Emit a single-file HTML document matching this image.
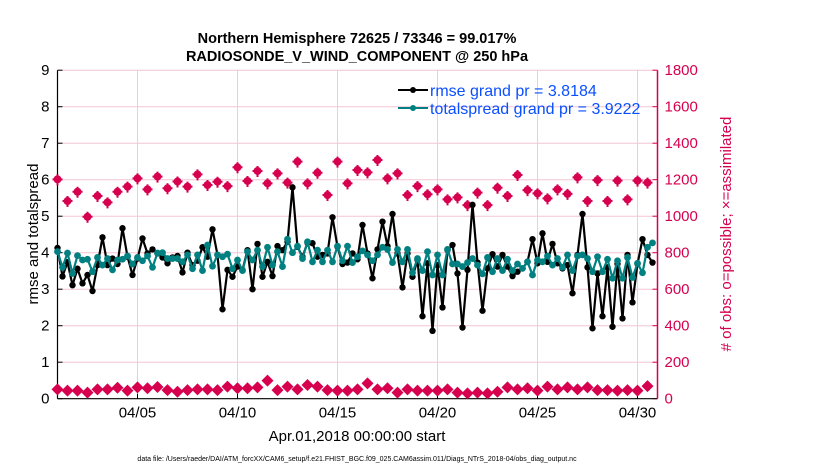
<!DOCTYPE html>
<html><head><meta charset="utf-8"><style>
body{margin:0;background:#fff;}
svg{display:block;font-family:"Liberation Sans",sans-serif;}
</style></head><body>
<svg id="chart" width="830" height="470" viewBox="0 0 830 470">
<g id="grid"></g>
<g id="axes"></g>
<g id="marks"></g>
<text x="357" y="43" text-anchor="middle" font-size="14.5" font-weight="bold">Northern Hemisphere 72625 / 73346 = 99.017%</text>
<text x="357" y="61" text-anchor="middle" font-size="14.5" font-weight="bold">RADIOSONDE_V_WIND_COMPONENT @ 250 hPa</text>
<text x="357" y="441" text-anchor="middle" font-size="15">Apr.01,2018 00:00:00 start</text>
<text transform="translate(38,234) rotate(-90)" text-anchor="middle" font-size="15">rmse and totalspread</text>
<text transform="translate(731,234) rotate(-90)" text-anchor="middle" font-size="15" fill="#d6004f"># of obs: o=possible; ×=assimilated</text>
<text x="357" y="461" text-anchor="middle" font-size="7">data file: /Users/raeder/DAI/ATM_forcXX/CAM6_setup/f.e21.FHIST_BGC.f09_025.CAM6assim.011/Diags_NTrS_2018-04/obs_diag_output.nc</text>
<g>
<line x1="398" y1="90" x2="428" y2="90" stroke="#000" stroke-width="2"/>
<circle cx="413" cy="90" r="3" fill="#000"/>
<text x="430" y="96" font-size="16" fill="#0a4fff">rmse grand pr = 3.8184</text>
<line x1="398" y1="108" x2="428" y2="108" stroke="#008080" stroke-width="2"/>
<circle cx="413" cy="108" r="3" fill="#008080"/>
<text x="430" y="114" font-size="16" fill="#0a4fff">totalspread grand pr = 3.9222</text>
</g>
</svg>
<script>
const rmse=[4.13,3.35,3.74,3.11,3.56,3.16,3.39,2.95,3.66,4.42,3.66,3.84,3.69,4.67,3.89,3.39,3.84,4.39,3.98,4.09,3.98,3.87,3.71,3.87,3.91,3.46,4.0,3.66,3.78,4.15,3.89,
4.64,3.94,2.45,3.53,3.34,3.62,3.53,4.07,3.0,4.24,3.34,3.75,3.36,4.18,4.07,4.3,5.79,4.16,3.89,4.27,4.26,3.89,3.94,3.98,4.97,4.16,3.69,3.73,3.98,3.82,
4.76,3.98,3.30,4.09,4.85,4.18,5.06,3.98,3.05,3.98,3.34,3.80,2.26,3.71,1.86,3.66,2.50,4.07,4.21,3.43,1.95,3.53,5.31,3.73,2.41,3.57,3.96,3.62,3.94,3.62,
3.36,3.48,3.57,3.75,4.37,3.71,4.53,3.75,4.24,3.71,3.57,3.66,2.89,3.94,5.06,3.60,1.93,3.43,2.26,3.60,1.97,3.69,2.20,3.94,2.64,3.69,4.37,3.94,3.73];
const spread=[4.03,3.60,3.99,3.43,3.92,3.80,3.82,3.48,3.87,3.66,3.84,3.53,3.80,3.82,3.91,3.69,3.87,3.78,3.91,3.60,3.99,4.0,3.84,3.84,3.84,3.75,3.94,3.56,3.94,3.51,4.21,
3.63,3.94,3.89,3.96,3.56,3.80,3.51,4.03,3.80,4.07,3.62,4.15,3.66,4.03,3.62,4.37,4.0,4.18,3.84,4.30,3.75,4.07,3.75,4.07,3.75,4.18,3.78,4.18,3.73,3.89,
4.05,3.94,3.78,3.94,4.15,4.09,3.73,4.09,3.75,4.09,3.45,3.84,3.51,4.03,3.39,3.94,3.39,4.09,3.69,3.69,3.62,3.73,3.84,3.66,3.42,3.87,3.48,3.84,3.51,3.82,
3.51,3.69,3.57,3.75,3.39,3.80,3.75,3.91,3.66,3.84,3.60,3.94,3.51,3.91,3.94,3.84,3.48,3.89,3.48,3.82,3.30,3.78,3.30,3.87,3.32,3.71,3.45,4.15,4.27];
const possible=[1202,1083,1134,997,1111,1076,1134,1162,1207,1147,1217,1153,1190,1162,1229,1171,
1189,1165,1268,1193,1248,1180,1235,1184,1299,1180,1238,1116,1299,1180,1253,
1240,1308,1207,1235,1116,1165,1120,1147,1092,1103,1061,1129,1061,1156,1111,
1226,1143,1125,1098,1147,1122,1213,1083,1198,1083,1195,1092,1195,1184];
const assimilated=[51,44,44,33,51,51,60,44,62,57,64,47,38,47,51,51,
47,66,57,57,62,99,47,66,51,75,66,47,44,44,51,
84,51,57,33,51,44,44,44,51,33,29,33,29,38,62,
51,57,44,66,51,62,51,62,47,47,44,47,44,69];
const xTickLabels=["04/05","04/10","04/15","04/20","04/25","04/30"];
const xTickDays=[4,9,14,19,24,29];
const yTicks=[0,1,2,3,4,5,6,7,8,9];
const rTicks=[0,200,400,600,800,1000,1200,1400,1600,1800];

const NS="http://www.w3.org/2000/svg";
const X0=57.5,X1=657.5,Y0=398.7,Ytop=70.2;
const xDay=d=>X0+(d/30)*(X1-X0);
const xIdx=i=>xDay(i*0.25);
const yL=v=>Y0-(v/9)*(Y0-Ytop);
const yR=v=>Y0-(v/1800)*(Y0-Ytop);
const PINK="#d6004f";
function mk(tag,attrs,parent){const e=document.createElementNS(NS,tag);for(const k in attrs)e.setAttribute(k,attrs[k]);parent.appendChild(e);return e;}
const grid=document.getElementById('grid'),axes=document.getElementById('axes'),marks=document.getElementById('marks');

yTicks.forEach(v=>{
  if(v>0){const l=mk('line',{x1:X0,x2:X1-2,y1:yL(v),y2:yL(v),stroke:'#f2c6d6','stroke-width':1},grid);
  
  }
  const t=mk('text',{x:X0-8,y:yL(v)+5,'text-anchor':'end','font-size':15},axes);t.textContent=v;
  
  
  mk('line',{x1:X0,x2:X0+5,y1:yL(v),y2:yL(v),stroke:'#000'},axes);
});
rTicks.forEach(v=>{
  const t=mk('text',{x:X1+7,y:yR(v)+5,'font-size':15,fill:PINK},axes);t.textContent=v;
  
  
  mk('line',{x1:X1-5,x2:X1,y1:yR(v),y2:yR(v),stroke:PINK},axes);
});
xTickDays.forEach((d,i)=>{
  const l=mk('line',{x1:xDay(d),x2:xDay(d),y1:Ytop,y2:Y0,stroke:'#d8d8d8','stroke-width':1},grid);
  
  
  mk('line',{x1:xDay(d),x2:xDay(d),y1:Y0,y2:Y0-5,stroke:'#000'},axes);
  const t=mk('text',{x:xDay(d),y:Y0+19,'text-anchor':'middle','font-size':15},axes);t.textContent=xTickLabels[i];
  
  
});
mk('line',{x1:X0,x2:X0,y1:Ytop,y2:Y0,stroke:'#000','stroke-width':1.2},axes);
mk('line',{x1:X0,x2:X1,y1:Y0,y2:Y0,stroke:'#000','stroke-width':1.2},axes);
mk('line',{x1:X1,x2:X1,y1:Ytop,y2:Y0,stroke:PINK,'stroke-width':1.5},axes);

possible.forEach((v,i)=>{
  const x=xIdx(i*2),y=yR(v);
  const g=mk('g',{},marks);
  
  
  mk('circle',{cx:x,cy:y,r:4,fill:PINK},g);
  mk('path',{d:`M${x-5} ${y}H${x+5}M${x} ${y-5}V${y+6}`,stroke:PINK,'stroke-width':2},g);
});
assimilated.forEach((v,i)=>{
  const x=xIdx(i*2),y=yR(v);
  const p=mk('path',{d:`M${x} ${y-6}L${x+6} ${y}L${x} ${y+6}L${x-6} ${y}Z`,fill:PINK},marks);
  
  
});
function series(vals,color,name,r){
  const pl=mk('polyline',{points:vals.map((v,i)=>xIdx(i)+','+yL(v)).join(' '),fill:'none',stroke:color,'stroke-width':2.2,'stroke-linejoin':'round'},marks);
  
  
  vals.forEach((v,i)=>{
    const c=mk('circle',{cx:xIdx(i),cy:yL(v),r:r,fill:color},marks);
    
    
  });
}
series(rmse,'#000','rmse',3.2);
series(spread,'#008080','totalspread',3.4);
</script>
</body></html>
